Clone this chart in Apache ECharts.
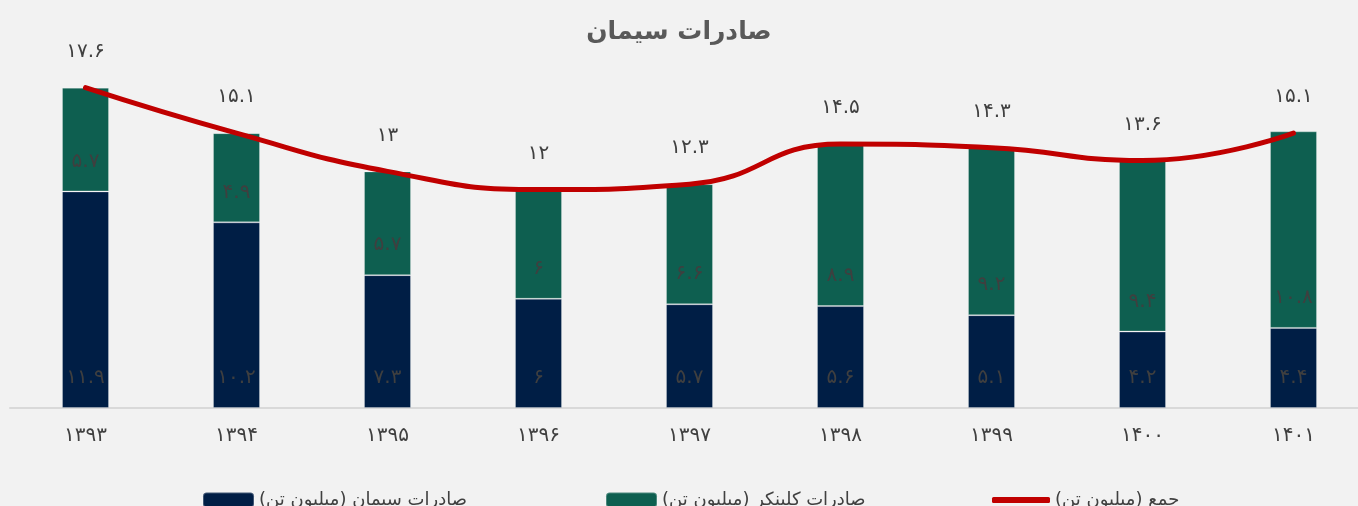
<!DOCTYPE html>
<html>
<head>
<meta charset="utf-8">
<script src="https://cdn.jsdelivr.net/npm/echarts@6/dist/echarts.min.js"></script>
<style>
    html, body { margin: 0; padding: 0; background: #f2f2f2; }
    #chart { width: 1358px; height: 506px; }
</style>
</head>
<body>
<div id="chart"></div>
<script>
// years (Solar Hijri), already in Persian digits
const years = ['۱۳۹۳', '۱۳۹۴', '۱۳۹۵', '۱۳۹۶', '۱۳۹۷', '۱۳۹۸', '۱۳۹۹', '۱۴۰۰', '۱۴۰۱'];
// million tonnes
const cementExports = [11.9, 10.2, 7.3, 6, 5.7, 5.6, 5.1, 4.2, 4.4];
const clinkerExports = [5.7, 4.9, 5.7, 6, 6.6, 8.9, 9.2, 9.4, 10.8];
const totalExports = [17.6, 15.1, 13, 12, 12.3, 14.5, 14.3, 13.6, 15.1];

const nameCement = 'صادرات سیمان (میلیون تن)';
const nameClinker = 'صادرات کلینکر (میلیون تن)';
const nameTotal = 'جمع (میلیون تن)';

const FONT = 'DejaVu Sans';
const faDigits = '۰۱۲۳۴۵۶۷۸۹';
function toFa(v) {
    return String(v).replace(/[0-9]/g, d => faDigits[+d]);
}

const chart = echarts.init(document.getElementById('chart'));

const barLabel = {
    show: true,
    position: 'insideBottom',
    distance: 20,
    color: '#3f3f3f',
    fontSize: 20,
    fontFamily: FONT,
    formatter: p => toFa(p.value)
};

function legendAt(left, item, w, h) {
    return {
        left: left,
        top: 486,
        itemWidth: w,
        itemHeight: h,
        itemGap: 10,
        selectedMode: false,
        data: [item],
        textStyle: { fontFamily: FONT, fontSize: 18, color: '#404040' }
    };
}

chart.setOption({
    backgroundColor: '#f2f2f2',
    animation: false,
    title: {
        text: 'صادرات سیمان',
        left: 'center',
        top: 15,
        textStyle: { fontFamily: FONT, fontSize: 25, fontWeight: 'bold', color: '#595959' }
    },
    legend: [
        legendAt(197, nameCement, 51, 15),
        legendAt(600, nameClinker, 51, 15),
        legendAt(987, { name: nameTotal, icon: 'roundRect' }, 58, 6)
    ],
    grid: {
        left: 10,
        right: -11,
        top: 44,
        bottom: 98,
        outerBoundsMode: 'none'
    },
    xAxis: {
        type: 'category',
        data: years,
        axisLine: { lineStyle: { color: '#d9d9d9', width: 2 } },
        axisTick: { show: false },
        axisLabel: { margin: 18, fontSize: 20, fontFamily: FONT, color: '#404040' }
    },
    yAxis: {
        type: 'value',
        min: 0,
        max: 20,
        show: false,
        splitLine: { show: false }
    },
    series: [
        {
            name: nameCement,
            type: 'bar',
            stack: 'exp',
            barWidth: 47,
            data: cementExports,
            itemStyle: { color: '#001e45', borderColor: 'rgba(255,255,255,0.25)', borderWidth: 1 },
            label: barLabel
        },
        {
            name: nameClinker,
            type: 'bar',
            stack: 'exp',
            barWidth: 47,
            data: clinkerExports,
            itemStyle: { color: '#0e5f50', borderColor: 'rgba(255,255,255,0.25)', borderWidth: 1 },
            label: barLabel
        },
        {
            name: nameTotal,
            type: 'line',
            smooth: 0.5,
            symbol: 'circle',
            symbolSize: 0.1,
            showSymbol: true,
            data: totalExports,
            lineStyle: { color: '#c00000', width: 5, cap: 'round' },
            itemStyle: { color: '#c00000' },
            label: {
                show: true,
                position: 'top',
                distance: 26,
                color: '#404040',
                fontSize: 20,
                fontFamily: FONT,
                formatter: p => toFa(p.value)
            },
            labelLayout: { hideOverlap: false },
            z: 5
        }
    ]
});
</script>
</body>
</html>
